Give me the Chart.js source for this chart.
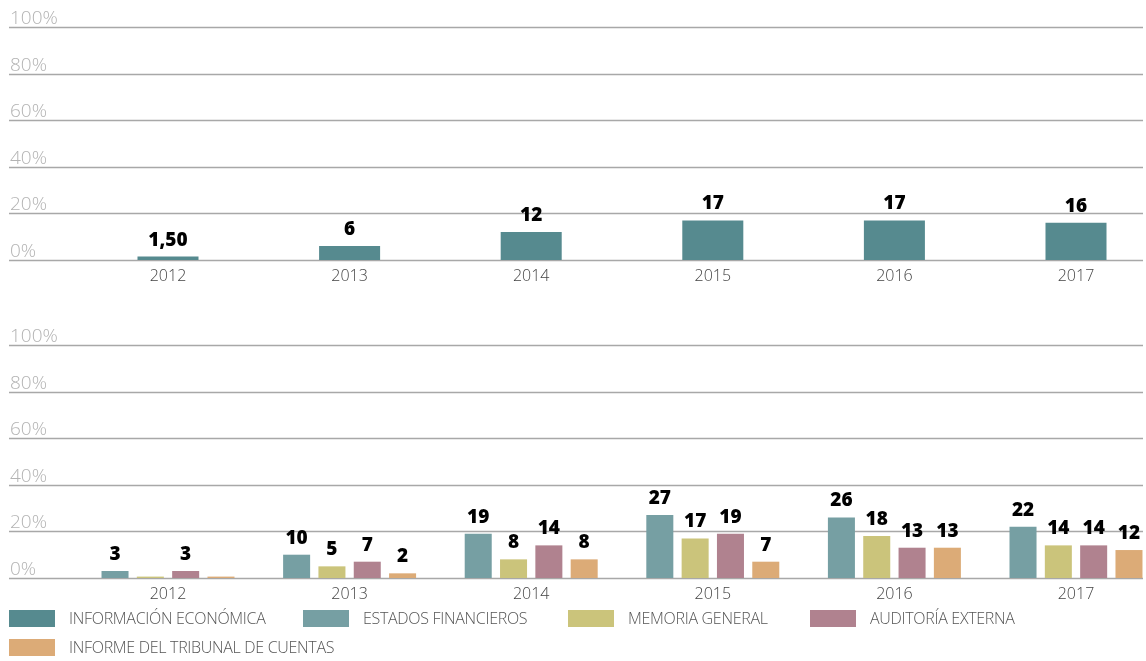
<!DOCTYPE html>
<html>
<head>
<meta charset="utf-8">
<script src="https://cdn.jsdelivr.net/npm/chart.js@4.4.0/dist/chart.umd.min.js"></script>
<style>
  html, body { margin: 0; padding: 0; background: #fff; }
  body { width: 1146px; height: 661px; position: relative; overflow: hidden;
         font-family: 'Open Sans', sans-serif; }
  .chart-box { position: absolute; left: 0; width: 1146px; height: 290px; }
  #topBox { top: 0; }
  #bottomBox { top: 318px; }
  #legend { position: absolute; left: 9px; top: 606px; width: 1130px;
            display: flex; flex-wrap: wrap; row-gap: 5px; }
  .lg-item { display: flex; align-items: center; height: 24px; }
  .lg-swatch { width: 46px; height: 17px; margin-right: 14px; flex: none; }
  .lg-text { font-size: 16px; font-weight: 300; color: #555; white-space: nowrap;
             letter-spacing: -0.3px; }
</style>
</head>
<body>
<div class="chart-box" id="topBox"><canvas id="topChart"></canvas></div>
<div class="chart-box" id="bottomBox"><canvas id="bottomChart"></canvas></div>
<div id="legend"></div>

<script>
/* ── data ───────────────────────────── */
const years = ['2012', '2013', '2014', '2015', '2016', '2017'];
const yTicks = [0, 20, 40, 60, 80, 100];

const infoEconomica = [1.5, 6, 12, 17, 17, 16];

const estadosFinancieros = [3, 10, 19, 27, 26, 22];
const memoriaGeneral     = [0.6, 5, 8, 17, 18, 14];
const auditoriaExterna   = [3, 7, 14, 19, 13, 14];
const informeTribunal    = [0.6, 2, 8, 7, 13, 12];

const seriesNames = [
  'INFORMACIÓN ECONÓMICA',
  'ESTADOS FINANCIEROS',
  'MEMORIA GENERAL',
  'AUDITORÍA EXTERNA',
  'INFORME DEL TRIBUNAL DE CUENTAS',
];
const seriesColors = ['#568a8f', '#769fa3', '#cbc47b', '#b0828f', '#dcab77'];
const legendWidths = [294, 265, 242, 300, 400];

/* ── helpers ────────────────────────── */
function fmtValue(v) {
  if (v < 1) return '';
  return Number.isInteger(v) ? String(v) : v.toFixed(2).replace('.', ',');
}

// full-width grid lines + % labels sitting above each line
const gridPlugin = {
  id: 'fullGrid',
  beforeDatasetsDraw(chart) {
    const { ctx } = chart;
    const y = chart.scales.y;
    ctx.save();
    yTicks.forEach(t => {
      const py = Math.round(y.getPixelForValue(t)) + 0.5;
      ctx.strokeStyle = '#a8a8a8';
      ctx.lineWidth = 1.4;
      ctx.beginPath();
      ctx.moveTo(9, py);
      ctx.lineTo(1143, py);
      ctx.stroke();
      ctx.fillStyle = '#b3b3b3';
      ctx.font = "300 19px 'Open Sans'";
      ctx.textAlign = 'left';
      ctx.textBaseline = 'alphabetic';
      ctx.fillText(t + '%', 10, py - 4);
    });
    ctx.restore();
  }
};

// bold value above each bar
const valuePlugin = {
  id: 'values',
  afterDatasetsDraw(chart) {
    const { ctx } = chart;
    ctx.save();
    ctx.fillStyle = '#000';
    ctx.font = "800 19px 'Open Sans'";
    ctx.textAlign = 'center';
    ctx.textBaseline = 'alphabetic';
    chart.data.datasets.forEach((ds, i) => {
      chart.getDatasetMeta(i).data.forEach((bar, j) => {
        const txt = fmtValue(ds.data[j]);
        if (txt) ctx.fillText(txt, bar.x, bar.y - 11);
      });
    });
    ctx.restore();
  }
};

function baseOptions() {
  return {
    responsive: true,
    maintainAspectRatio: false,
    animation: false,
    layout: { padding: { left: 168, right: 70, top: 27, bottom: 6 } },
    plugins: { legend: { display: false }, tooltip: { enabled: false } },
    datasets: { bar: { clip: false } },
    scales: {
      x: {
        offset: false,
        grid: { display: false, drawTicks: false, tickLength: 0 },
        border: { display: false },
        ticks: { padding: 7, color: '#444', font: { family: "'Open Sans'", size: 16, weight: 300 } },
        afterFit: s => { s.height = 24; }
      },
      y: { display: false, min: 0, max: 100 }
    }
  };
}

/* ── top chart ──────────────────────── */
new Chart(document.getElementById('topChart'), {
  type: 'bar',
  data: {
    labels: years,
    datasets: [{
      label: seriesNames[0],
      data: infoEconomica,
      backgroundColor: seriesColors[0],
      categoryPercentage: 1,
      barPercentage: 0.336,
    }]
  },
  options: baseOptions(),
  plugins: [gridPlugin, valuePlugin]
});

/* ── bottom chart ───────────────────── */
const bottomSeries = [estadosFinancieros, memoriaGeneral, auditoriaExterna, informeTribunal];
new Chart(document.getElementById('bottomChart'), {
  type: 'bar',
  data: {
    labels: years,
    datasets: bottomSeries.map((d, i) => ({
      label: seriesNames[i + 1],
      data: d,
      backgroundColor: seriesColors[i + 1],
      categoryPercentage: 0.778,
      barPercentage: 0.765,
    }))
  },
  options: baseOptions(),
  plugins: [gridPlugin, valuePlugin]
});

/* ── legend ─────────────────────────── */
const legendEl = document.getElementById('legend');
seriesNames.forEach((name, i) => {
  const item = document.createElement('div');
  item.className = 'lg-item';
  item.style.width = legendWidths[i] + 'px';
  item.innerHTML = `<span class="lg-swatch" style="background:${seriesColors[i]}"></span><span class="lg-text">${name}</span>`;
  legendEl.appendChild(item);
});
// 5th item goes on the second row
legendEl.children[4].style.marginRight = '800px';
</script>
</body>
</html>
